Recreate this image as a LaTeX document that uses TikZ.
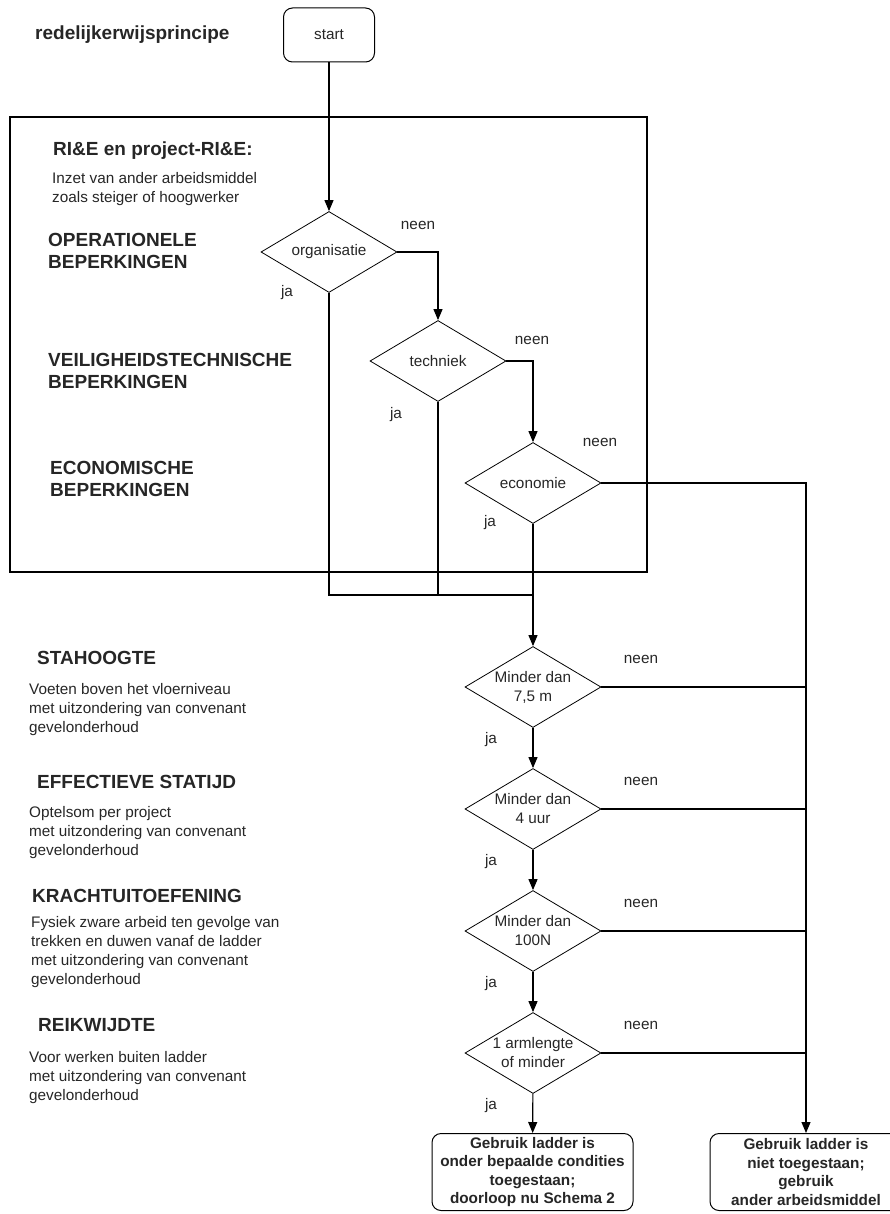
\documentclass[tikz,border=0pt]{standalone}
\usepackage{fontspec}
\setmainfont{Liberation Sans}
\usetikzlibrary{shapes.geometric, arrows.meta, positioning}

\begin{document}
\begin{tikzpicture}[
    x=1pt, y=-1pt,
    every node/.style={font=\fontsize{15.3}{19}\selectfont, text=black!85},
    terminal/.style={rectangle, draw, rounded corners=9pt, line width=1pt, minimum width=91pt, minimum height=54pt},
    decision/.style={diamond, draw, line width=0.8pt, aspect=1.68, minimum width=136pt, minimum height=81pt, inner sep=0pt, align=center},
    endbox/.style={rectangle, draw, rounded corners=9pt, line width=1pt, minimum height=77pt, align=center, font=\fontsize{15.3}{18.5}\selectfont\bfseries},
    heading/.style={anchor=north west, inner sep=0pt, align=left, font=\fontsize{19}{22}\selectfont\bfseries},
    note/.style={anchor=north west, inner sep=0pt, align=left},
    answer/.style={inner sep=0pt},
    arrow/.style={-{Triangle[length=11pt, width=9pt]}, line width=1.1pt},
    line/.style={line width=1.1pt},
    ]
    \useasboundingbox (0,0) rectangle (889,1214);

    % Frame round the RI&E part
    \draw[line] (10,117) rectangle (647,572);

    % Texts on the left
    \node[heading] (title) at (35,26) {redelijkerwijsprincipe};
    \node[heading] (rie) at (53,142) {RI\&E en project-RI\&E:};
    \node[note] (rieText) at (52,172) {Inzet van ander arbeidsmiddel\\zoals steiger of hoogwerker};
    \node[heading] (operLabel) at (48,233) {OPERATIONELE\\BEPERKINGEN};
    \node[heading] (safetyLabel) at (48,353) {VEILIGHEIDSTECHNISCHE\\BEPERKINGEN};
    \node[heading] (econLabel) at (50,461) {ECONOMISCHE\\BEPERKINGEN};
    \node[heading] (heightLabel) at (37,651) {STAHOOGTE};
    \node[note] (heightText) at (29,683) {Voeten boven het vloerniveau\\met uitzondering van convenant\\gevelonderhoud};
    \node[heading] (timeLabel) at (37,775) {EFFECTIEVE STATIJD};
    \node[note] (timeText) at (29,806) {Optelsom per project\\met uitzondering van convenant\\gevelonderhoud};
    \node[heading] (forceLabel) at (32,889) {KRACHTUITOEFENING};
    \node[note] (forceText) at (31,916) {Fysiek zware arbeid ten gevolge van\\trekken en duwen vanaf de ladder\\met uitzondering van convenant\\gevelonderhoud};
    \node[heading] (reachLabel) at (38,1018) {REIKWIJDTE};
    \node[note] (reachText) at (29,1051) {Voor werken buiten ladder\\met uitzondering van convenant\\gevelonderhoud};

    % Flow nodes
    \node[terminal] (start) at (329,35) {start};
    \node[decision] (org) at (329,252) {organisatie};
    \node[decision] (tech) at (438,361) {techniek};
    \node[decision] (econ) at (533,483) {economie};
    \node[decision] (height) at (533,687) {Minder dan\\7,5 m};
    \node[decision] (duration) at (533,809) {Minder dan\\4 uur};
    \node[decision] (force) at (533,931) {Minder dan\\100N};
    \node[decision] (reach) at (533,1053) {1 armlengte\\of minder};
    \node[endbox, minimum width=201pt] (allowed) at (532.5,1172) {Gebruik ladder is\\onder bepaalde condities\\toegestaan;\\doorloop nu Schema 2};
    \node[endbox, minimum width=192pt] (denied) at (806,1172) {Gebruik ladder is\\niet toegestaan;\\gebruik\\ander arbeidsmiddel};
    \coordinate (merge) at (533,595);

    % Answers
    \node[answer] (orgNo) at (418,225) {neen};
    \node[answer] (orgYes) at (287,293) {ja};
    \node[answer] (techNo) at (532,340) {neen};
    \node[answer] (techYes) at (396,415) {ja};
    \node[answer] (econNo) at (600,442) {neen};
    \node[answer] (econYes) at (490,523) {ja};
    \foreach \name/\y in {height/687, duration/809, force/931, reach/1053} {
        \node[answer] (\name No) at (641,\y-28) {neen};
        \node[answer] (\name Yes) at (491,\y+53) {ja};
    }

    % Edges
    \draw[arrow] (start) -- (org);
    \draw[arrow] (org.east) -| (tech.north);
    \draw[arrow] (tech.east) -| (econ.north);
    \draw[line] (org.south) |- (merge);
    \draw[line] (tech.south) -- (tech.south |- merge);
    \draw[arrow] (econ.south) -- (height.north);
    \draw[arrow] (height) -- (duration);
    \draw[arrow] (duration) -- (force);
    \draw[arrow] (force) -- (reach);
    \draw[arrow] (reach) -- (allowed);
    \draw[arrow] (econ.east) -| (denied.north);
    \foreach \name in {height, duration, force, reach}
        \draw[line] (\name.east) -- (\name.east -| denied.north);
\end{tikzpicture}
\end{document}
